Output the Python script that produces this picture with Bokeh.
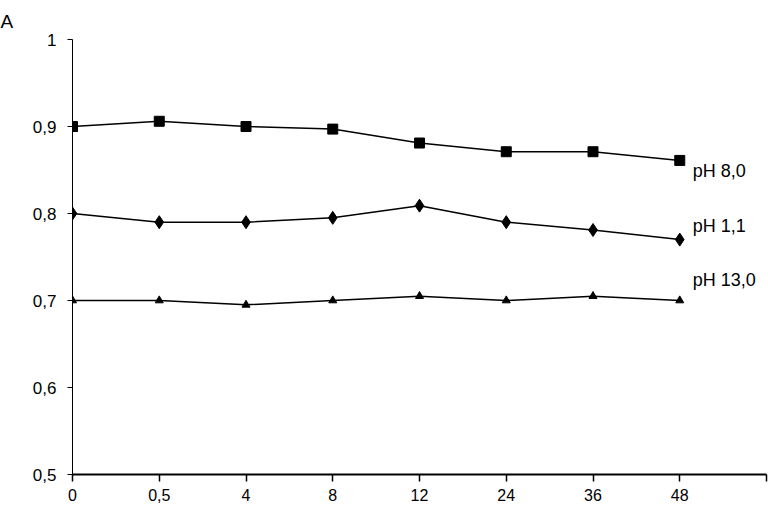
from bokeh.plotting import figure
from bokeh.models import ColumnDataSource, FixedTicker, Range1d
from bokeh.embed import file_html
from bokeh.resources import INLINE
from bokeh.core.properties import value

# ---- data ----
x_labels = ["0", "0,5", "4", "8", "12", "24", "36", "48"]
ph80 = [0.900, 0.906, 0.900, 0.897, 0.881, 0.871, 0.871, 0.861]
ph11 = [0.800, 0.790, 0.790, 0.795, 0.809, 0.790, 0.781, 0.770]
ph130 = [0.700, 0.700, 0.695, 0.700, 0.705, 0.700, 0.705, 0.700]
series_names = ["pH 8,0", "pH 1,1", "pH 13,0"]
y_ticks = [0.5, 0.6, 0.7, 0.8, 0.9, 1.0]
y_tick_labels = ["0,5", "0,6", "0,7", "0,8", "0,9", "1"]
panel_label = "A"

FONT = "Liberation Sans"
xs = list(range(len(x_labels)))

p = figure(width=768, height=503, output_backend="svg", toolbar_location=None,
           x_range=Range1d(0, len(x_labels)), y_range=Range1d(0.5, 1.0),
           min_border_left=72, min_border_right=2, min_border_top=39, min_border_bottom=29,
           margin=(0, 0, 0, 0), title=panel_label)
p.outline_line_color = None
p.grid.visible = False
p.background_fill_color = "white"
p.border_fill_color = "white"

# panel letter as title at top-left
p.title.align = "left"
p.title.offset = -72
p.title.text_font = FONT
p.title.text_font_size = "19px"
p.title.text_font_style = "normal"
p.title.text_color = "black"
p.title.standoff = 16

# x axis
p.xaxis.ticker = FixedTicker(ticks=list(range(len(x_labels) + 1)))
p.xaxis.major_label_overrides = {i: lab for i, lab in enumerate(x_labels + [""])}
p.xaxis.minor_tick_line_color = None
p.xaxis.major_tick_in = 0
p.xaxis.major_tick_out = 7
p.xaxis.axis_line_width = 2
p.xaxis.major_tick_line_width = 1.5
p.xaxis.major_label_standoff = 7
p.xaxis.major_label_text_font = FONT
p.xaxis.major_label_text_font_size = "16px"
p.xaxis.major_label_text_color = "black"

# y axis
p.yaxis.ticker = FixedTicker(ticks=y_ticks)
p.yaxis.major_label_overrides = {t: lab for t, lab in zip(y_ticks, y_tick_labels)}
p.yaxis.minor_tick_line_color = None
p.yaxis.major_tick_in = 0
p.yaxis.major_tick_out = 5
p.yaxis.axis_line_width = 1
p.yaxis.major_label_standoff = 11
p.yaxis.major_label_text_font = FONT
p.yaxis.major_label_text_font_size = "17px"
p.yaxis.major_label_text_color = "black"

# series
p.line(xs, ph80, line_color="black", line_width=1.5)
p.scatter(xs, ph80, marker="square", size=10, color="black")
p.line(xs, ph11, line_color="black", line_width=1.5)
p.scatter(xs, ph11, marker="diamond", size=13, color="black")
p.line(xs, ph130, line_color="black", line_width=1.5)
p.scatter(xs, ph130, marker="triangle", size=8, color="black")

# series labels next to last points
src = ColumnDataSource(dict(
    x=[xs[-1]] * 3,
    y=[ph80[-1], ph11[-1], ph130[-1]],
    text=series_names,
    yo=[11, -14, -21],
))
p.text(x="x", y="y", text="text", source=src, x_offset=13, y_offset="yo",
       text_font=value(FONT), text_font_size="18px", text_align="left",
       text_baseline="middle", text_color="black")

open("out.html", "w").write(file_html(p, INLINE))
